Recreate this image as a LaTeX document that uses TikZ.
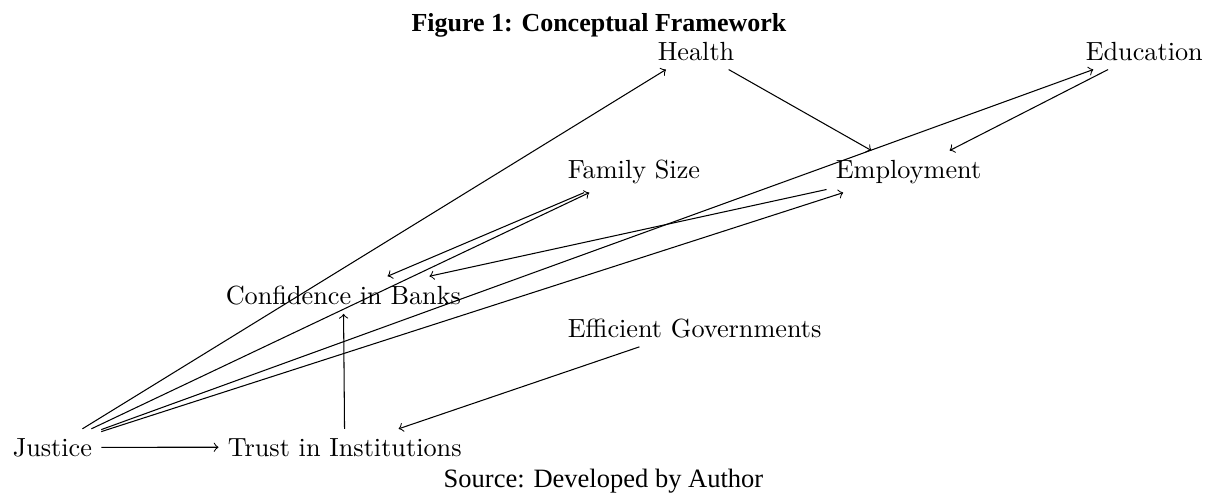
\documentclass[tikz,border=0pt]{standalone}
\usepackage{fontspec}
\newfontfamily\capfont{Liberation Serif}
\begin{document}
\begin{tikzpicture}[
  x=0.381pt, y=-0.381pt,
  concept/.style={anchor=base west, inner sep=3.33pt, font=\fontsize{10}{12}\selectfont},
  caption/.style={anchor=base, inner sep=0pt},
  link/.style={->, line width=0.4pt}
]
\useasboundingbox (0,0) rectangle (1205,493);

% captions
\node[caption, font=\capfont\bfseries\fontsize{9.9}{12}\selectfont] (title) at (599,31) {Figure 1: Conceptual Framework};
\node[caption, font=\capfont\fontsize{10.1}{12}\selectfont] (source) at (603.5,487) {Source: Developed by Author};

% concepts (west anchor sits one inner sep left of the text)
\node[concept] (justice)    at (3.5,456)  {Justice};
\node[concept] (trust)      at (218.5,456) {Trust in Institutions};
\node[concept] (confidence) at (216.5,304) {Confidence in Banks};
\node[concept] (efficient)  at (558.5,337) {Efficient Governments};
\node[concept] (family)     at (558.5,178) {Family Size};
\node[concept] (employment) at (826.5,178) {Employment};
\node[concept] (health)     at (648.5,60)  {Health};
\node[concept] (education)  at (1076.5,60) {Education};

% relations
\draw[link] (justice) -- (trust);
\draw[link] (justice) -- (health);
\draw[link] (justice) -- (family);
\draw[link] (justice) -- (employment);
\draw[link] (justice) -- (education);
\draw[link] (family) -- (confidence);
\draw[link] (employment) -- (confidence);
\draw[link] (health) -- (employment);
\draw[link] (education) -- (employment);
\draw[link] (trust) -- (confidence);
\draw[link] (efficient) -- (trust);
\end{tikzpicture}
\end{document}
